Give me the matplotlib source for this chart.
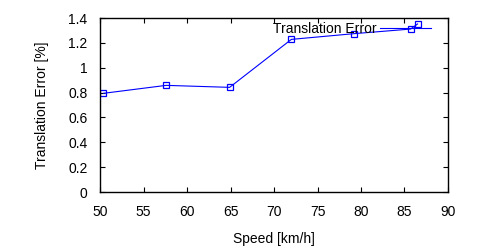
import matplotlib
matplotlib.use("Agg")
import matplotlib.pyplot as plt
from matplotlib.lines import Line2D
from matplotlib.ticker import MultipleLocator

speed = [50.4, 57.6, 64.9, 72.0, 79.2, 85.7, 86.5]
trans_err = [0.794, 0.858, 0.842, 1.228, 1.274, 1.311, 1.352]

plt.rcParams['font.family'] = ['Liberation Sans', 'DejaVu Sans']
plt.rcParams['font.size'] = 10

fig = plt.figure(figsize=(5, 2.5), dpi=100)
ax = fig.add_axes([0.2, 0.232, 0.696, 0.696])

ax.plot(speed, trans_err, color='#0000ff', lw=0.8, marker='s', markersize=5,
        markerfacecolor='none', markeredgecolor='#0000ff', markeredgewidth=0.9)

ax.set_xlim(50, 90)
ax.set_ylim(0, 1.4)
ax.xaxis.set_major_locator(MultipleLocator(5))
ax.yaxis.set_major_locator(MultipleLocator(0.2))
ax.yaxis.set_major_formatter(plt.FuncFormatter(lambda v, p: '%g' % round(v, 2)))
ax.tick_params(direction='in', length=3.5, width=0.8, top=True, right=True)
ax.tick_params(axis='y', pad=9)
ax.tick_params(axis='x', pad=9)
for s in ax.spines.values():
    s.set_linewidth(1.0)

ax.set_xlabel('Speed [km/h]', labelpad=10)
ax.set_ylabel('Translation Error [%]', labelpad=14)

handle = Line2D([], [], color='#0000ff', lw=0.8)
ax.legend([handle], ['Translation Error'], loc='center right', frameon=False,
          markerfirst=False, handlelength=3.7, handletextpad=0.2,
          bbox_to_anchor=(0.951, 0.937), borderaxespad=0, borderpad=0,
          fontsize=10)

fig.savefig('out.png', dpi=100)
